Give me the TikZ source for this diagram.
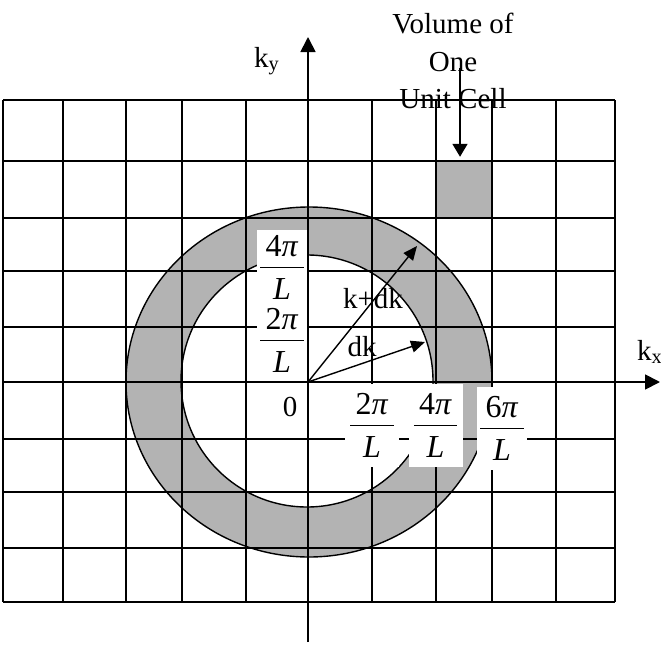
\documentclass[tikz,border=0pt]{standalone}
\usepackage{amsmath}
\usepackage{fontspec}
\setmainfont{Liberation Serif}
\usepackage{tikz}
\usetikzlibrary{arrows.meta,positioning,calc}
\definecolor{ringgray}{RGB}{179,179,179}
\newcommand{\wavefrac}[1]{$\genfrac{}{}{1.3pt}{0}{\text{\,#1\textit{π}\,}}{\text{\rule{0pt}{0.85em}\textit{L}}}$}
\tikzset{
  gridline/.style={line width=1.6pt},
  shellline/.style={line width=1.4pt},
  axisarrow/.style={-{Triangle[length=15pt,width=15pt]},line width=1.8pt},
  vecarrow/.style={-{Triangle[length=14pt,width=12pt]},line width=1.4pt},
  fracbox/.style={fill=white,inner sep=0pt,minimum width=54pt,minimum height=83pt,
    font=\fontsize{32}{38}\selectfont},
  cellbox/.style={fill=ringgray,inner sep=0pt,minimum width=56pt,minimum height=57pt},
  celllabel/.style={align=center,inner sep=0pt,font=\fontsize{29}{37.5}\selectfont}
}
\begin{document}
\begin{tikzpicture}[x=1pt,y=-1pt,font=\fontsize{29}{35}\selectfont]
  \useasboundingbox (0,0) rectangle (661,645);
  \fill[ringgray,even odd rule] (309,382) ellipse [x radius=183,y radius=175]
    (307,381) circle [radius=126];
  \node[cellbox] (cell) at (464,189.5) {};
  \foreach \x in {3,63,126,182,246,372,436,492,556,615}
    \draw[gridline] (\x,100) -- (\x,602);
  \foreach \y in {100,161,218,271,327,439,492,548,602}
    \draw[gridline] (3,\y) -- (615,\y);
  \draw[shellline] (309,382) ellipse [x radius=183,y radius=175];
  \draw[shellline] (307,381) circle [radius=126];
  \node[fracbox] (xtwo) at (372,425.5) {\wavefrac{2}};
  \node[fracbox] (xfour) at (435.5,425.5) {\wavefrac{4}};
  \node[fracbox,minimum width=50pt] (xsix) at (502,428.5) {\wavefrac{6}};
  \node[fracbox,minimum width=50pt,minimum height=76pt] (yfour) at (282,267.5) {\wavefrac{4}};
  \node[fracbox,minimum width=50pt,minimum height=74pt] (ytwo) at (282,340.5) {\wavefrac{2}};
  \node (zero) at (290,407) {0};
  \coordinate (o) at (308,382);
  \coordinate (ybot) at (308,642);
  \coordinate (ytip) at (308,37);
  \coordinate (xleft) at (3,382);
  \coordinate (xtip) at (660,382);
  \draw[axisarrow] (ybot) -- (ytip);
  \draw[axisarrow] (xleft) -- (xtip);
  \coordinate (kdkend) at (417,246);
  \coordinate (dkend) at (425,342);
  \draw[vecarrow] (o) -- (kdkend);
  \draw[vecarrow] (o) -- (dkend);
  \node (kdklabel) at (373,299) {k+dk};
  \node (dklabel) at (362,347) {dk};
  \node[anchor=base west,inner sep=0pt] (kylabel) at (254,67) {k\textsubscript{y}};
  \node[anchor=base west,inner sep=0pt] (kxlabel) at (637,360) {k\textsubscript{x}};
  \node[celllabel,anchor=north] (celltext) at (453,13) {Volume of\\One\\Unit Cell};
  \coordinate (cellarrow) at (460,68);
  \draw[axisarrow,-{Triangle[length=13pt,width=15pt]},shorten >=4pt] (cellarrow) -- (cellarrow |- cell.north);
\end{tikzpicture}
\end{document}
